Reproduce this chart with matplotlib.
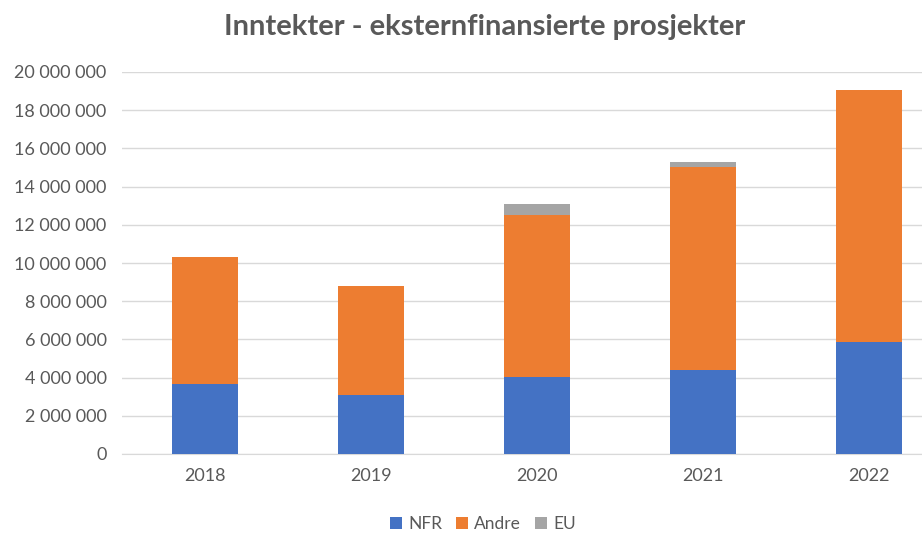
import matplotlib
matplotlib.use("Agg")
import matplotlib.pyplot as plt
from matplotlib.ticker import FuncFormatter
import numpy as np

years = ["2018", "2019", "2020", "2021", "2022"]
nfr = [3660000, 3090000, 4010000, 4380000, 5860000]
andre = [6670000, 5720000, 8490000, 10650000, 13210000]
eu = [0, 0, 600000, 260000, 0]

plt.rcParams['font.family'] = ['Lato', 'DejaVu Sans']

fig = plt.figure(figsize=(9.22, 5.33), dpi=100)
W, H = 922, 533
ax = fig.add_axes([122 / W, 79 / H, (952 - 122) / W, (454 - 72) / H])

x = np.arange(len(years))
w = 0.4
nfr_a = np.array(nfr)
andre_a = np.array(andre)
eu_a = np.array(eu)
ax.bar(x, nfr_a, w, color="#4472C4", label="NFR", zorder=3)
ax.bar(x, andre_a, w, bottom=nfr_a, color="#ED7D31", label="Andre", zorder=3)
ax.bar(x, eu_a, w, bottom=nfr_a + andre_a, color="#A5A5A5", label="EU", zorder=3)

ax.set_xlim(-0.5, 4.5)
ax.set_ylim(0, 20000000)
ax.set_yticks(np.arange(0, 20000001, 2000000))
ax.yaxis.set_major_formatter(FuncFormatter(lambda v, p: f"{int(v):,}".replace(",", " ")))
ax.set_xticks(x)
ax.set_xticklabels(years)
ax.grid(axis="y", color="#D9D9D9", linewidth=1, zorder=0)
for s in ["top", "right", "left"]:
    ax.spines[s].set_visible(False)
ax.spines["bottom"].set_color("#D9D9D9")
ax.tick_params(axis="both", length=0, labelsize=13, labelcolor="#595959")
ax.tick_params(axis="x", pad=10)
ax.tick_params(axis="y", pad=11)

fig.text(485 / W, 1 - 27 / H, "Inntekter - eksternfinansierte prosjekter",
         ha="center", va="center", fontsize=21, fontweight="bold", color="#595959")

leg = fig.legend(loc="center", bbox_to_anchor=(483 / W, 1 - 524 / H), ncol=3,
                 frameon=False, fontsize=12.5, handlelength=0.7, handleheight=0.7,
                 columnspacing=0.8, handletextpad=0.35)
for t in leg.get_texts():
    t.set_color("#595959")

fig.savefig("out.png", dpi=100)
